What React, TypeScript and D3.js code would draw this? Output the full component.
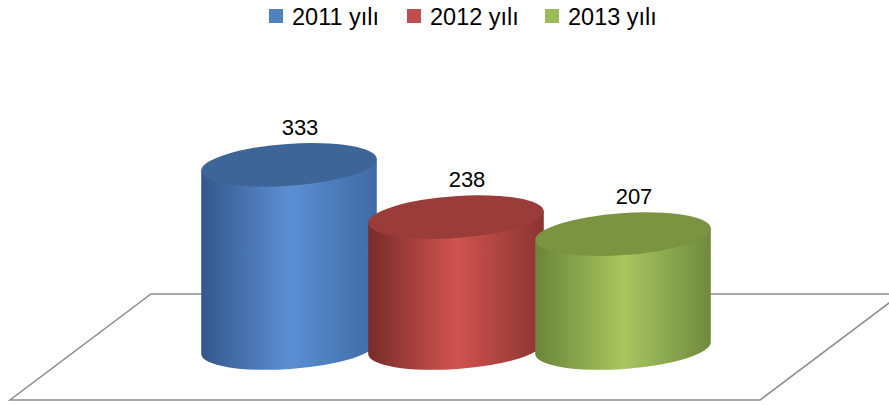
import React, { useEffect, useRef } from 'react';
import * as d3 from 'd3';

const categories = ['2011 yılı', '2012 yılı', '2013 yılı'];
const values = [333, 238, 207];
const legendColors = ['#4f81bd', '#c0504d', '#9bbb59'];
const shades = [
  { dark: '#34578a', mid: '#5b8fd4', right: '#3f6aa4', top: '#3e6597' },
  { dark: '#772c2a', mid: '#d0534f', right: '#8b3432', top: '#9a3c3a' },
  { dark: '#6a8538', mid: '#a9c660', right: '#6f8a3c', top: '#7a9441' },
];

const App: React.FC = () => {
  const ref = useRef<SVGSVGElement>(null);

  useEffect(() => {
    if (!ref.current) return;
    const width = 889;
    const height = 405;
    const svg = d3.select(ref.current);
    svg.selectAll('*').remove();
    svg.attr('width', width).attr('height', height);

    const defs = svg.append('defs');
    shades.forEach((c, i) => {
      const g = defs.append('linearGradient')
        .attr('id', `side${i}`)
        .attr('x1', '0%').attr('x2', '100%').attr('y1', '0%').attr('y2', '0%');
      g.append('stop').attr('offset', '0%').attr('stop-color', c.dark);
      g.append('stop').attr('offset', '50%').attr('stop-color', c.mid);
      g.append('stop').attr('offset', '100%').attr('stop-color', c.right);
    });

    // floor (3D plane)
    svg.append('path')
      .attr('d', 'M151,294 L901,294 L760,400 L10,400 Z')
      .attr('fill', 'none')
      .attr('stroke', '#8c8c8c')
      .attr('stroke-width', 1.5);

    const x = d3.scaleBand<string>()
      .domain(categories)
      .range([205.5, 706.5])
      .paddingInner(0);
    const y = d3.scaleLinear().domain([0, 350]).range([348, 155.5]);

    const rx = 88;
    const ry = 21;
    const tilt = -4; // degrees
    const rad = (tilt * Math.PI) / 180;
    const dx = rx * Math.cos(rad);
    const dy = rx * Math.sin(rad);

    categories.forEach((cat, i) => {
      const cx = (x(cat) as number) + x.bandwidth() / 2;
      const yt = y(values[i]);
      const yb = y(0);
      const g = svg.append('g');

      // body
      g.append('path')
        .attr('d',
          `M${cx - dx},${yt - dy} L${cx - dx},${yb - dy} ` +
          `A${rx},${ry} ${tilt} 0 0 ${cx + dx},${yb + dy} ` +
          `L${cx + dx},${yt + dy} Z`)
        .attr('fill', `url(#side${i})`);

      // top
      g.append('ellipse')
        .attr('cx', cx).attr('cy', yt)
        .attr('rx', rx).attr('ry', ry)
        .attr('transform', `rotate(${tilt},${cx},${yt})`)
        .attr('fill', shades[i].top);

      // value label
      g.append('text')
        .attr('x', cx + 11)
        .attr('y', yt - 30)
        .attr('text-anchor', 'middle')
        .attr('font-family', 'Liberation Sans, Arial, sans-serif')
        .attr('font-size', 22)
        .attr('fill', '#000')
        .text(values[i]);
    });

    // legend
    const legend = svg.append('g');
    categories.forEach((cat, i) => {
      const lx = 269 + i * 138;
      legend.append('rect')
        .attr('x', lx).attr('y', 9)
        .attr('width', 14).attr('height', 14)
        .attr('fill', legendColors[i]);
      legend.append('text')
        .attr('x', lx + 23)
        .attr('y', 25)
        .attr('font-family', 'Liberation Sans, Arial, sans-serif')
        .attr('font-size', 23.5)
        .attr('fill', '#000')
        .text(cat);
    });
  }, []);

  return (
    <svg ref={ref} style={{ position: 'absolute', left: 0, top: 0, display: 'block' }} />
  );
};

export default App;
